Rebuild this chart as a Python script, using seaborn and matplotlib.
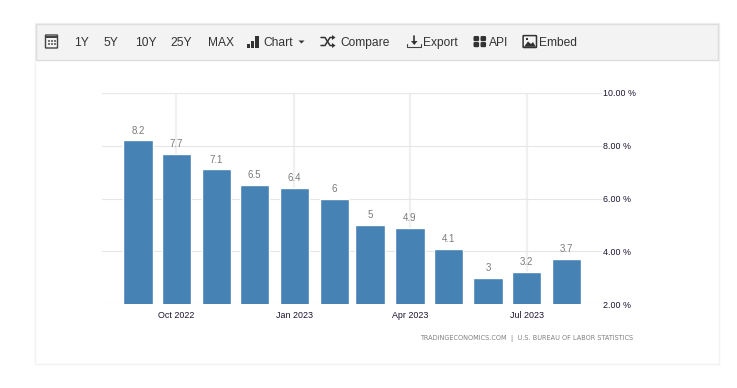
import datetime as dt
import matplotlib
matplotlib.use("Agg")
import matplotlib.pyplot as plt
import matplotlib.dates as mdates
from matplotlib.patches import Rectangle, FancyBboxPatch, Polygon
import seaborn as sns

months = ["2022-09-01", "2022-10-01", "2022-11-01", "2022-12-01", "2023-01-01", "2023-02-01",
          "2023-03-01", "2023-04-01", "2023-05-01", "2023-06-01", "2023-07-01", "2023-08-01"]
inflation = [8.2, 7.7, 7.1, 6.5, 6.4, 6, 5, 4.9, 4.1, 3, 3.2, 3.7]
tick_dates = ["2022-10-01", "2023-01-01", "2023-04-01", "2023-07-01"]
tick_labels = ["Oct 2022", "Jan 2023", "Apr 2023", "Jul 2023"]
y_ticks = [2, 4, 6, 8, 10]
y_labels = ["2.00 %", "4.00 %", "6.00 %", "8.00 %", "10.00 %"]
menu = [("1Y", 74), ("5Y", 104), ("10Y", 135), ("25Y", 170.5), ("MAX", 208), ("Chart", 263.5),
        ("Compare", 340), ("Export", 423), ("API", 489), ("Embed", 539.5)]

W, H = 737, 388
sns.set_theme(style="white")
plt.rcParams["font.family"] = ["Liberation Sans", "DejaVu Sans"]


def to_num(d):
    return mdates.date2num(dt.date.fromisoformat(d))


fig = plt.figure(figsize=(W / 100, H / 100), dpi=100, facecolor="white")

# page chrome in pixel coordinates
bg = fig.add_axes([0, 0, 1, 1], zorder=0)
bg.set_xlim(0, W)
bg.set_ylim(H, 0)
bg.axis("off")
bg.add_patch(Rectangle((35.5, 22.5), 684, 341, fc="white", ec="#f2f2f2", lw=1))
bg.add_patch(Rectangle((36.5, 23.5), 682, 36, fc="#f3f3f3", ec="#dddddd", lw=1))
for label, px in menu:
    bg.text(px, 45.7, label, fontsize=8.64, color="#333333", va="baseline", ha="left")

ic = "#333333"
# calendar icon
bg.add_patch(FancyBboxPatch((46, 35.5), 11, 12, boxstyle="round,pad=0.5", fc="#f3f3f3", ec="#444444", lw=1.0))
bg.add_patch(Rectangle((46, 35.5), 11, 2.5, fc="#444444", ec="none"))
for gx in (48, 51, 54):
    for gy in (40, 43):
        bg.add_patch(Rectangle((gx, gy), 2, 2, fc="#777777", ec="none"))
# bars icon
for bx, top in ((247.5, 43.5), (251, 40.5), (255, 36)):
    bg.add_patch(Rectangle((bx, top), 3 if bx < 255 else 4, 47.5 - top, fc=ic, ec="none"))
# caret
bg.add_patch(Polygon([(298.5, 40.5), (304.5, 40.5), (301.5, 43.5)], fc=ic, ec="none"))
# shuffle icon
bg.plot([321, 325, 330, 333], [37.5, 37.5, 45.5, 45.5], color=ic, lw=1.1)
bg.plot([321, 325, 330, 333], [45.5, 45.5, 37.5, 37.5], color=ic, lw=1.1)
bg.add_patch(Polygon([(332, 35), (335.5, 37.5), (332, 40)], fc=ic, ec="none"))
bg.add_patch(Polygon([(332, 43), (335.5, 45.5), (332, 48)], fc=ic, ec="none"))
# export icon
bg.plot([407.5, 407.5, 421, 421], [43.5, 47, 47, 43.5], color="#444444", lw=0.8)
bg.plot([414.3, 414.3], [36, 43], color=ic, lw=1.2)
bg.add_patch(Polygon([(411, 41), (417.6, 41), (414.3, 45)], fc=ic, ec="none"))
# api icon
for ax_, ay_ in ((473.5, 36), (480.5, 36), (473.5, 42), (480.5, 42)):
    bg.add_patch(FancyBboxPatch((ax_ + 1.3, ay_ + 1.3), 3, 2.6, boxstyle="round,pad=1.3", fc=ic, ec="none"))
# embed icon
bg.add_patch(FancyBboxPatch((523.8, 36.3), 12, 10.5, boxstyle="round,pad=0.7", fc="#f3f3f3", ec=ic, lw=1.1))
bg.add_patch(Polygon([(524, 46.8), (528, 41.5), (531, 44), (533, 42), (535.8, 46.8)], fc=ic, ec="none"))
bg.add_patch(Rectangle((526, 38.3), 2, 2, fc=ic, ec="none"))

bg.text(633, 338, "TRADINGECONOMICS.COM  |  U.S. BUREAU OF LABOR STATISTICS", fontsize=4.7,
        color="#808080", ha="right", va="center", fontfamily="DejaVu Sans")

# chart
ax = fig.add_axes([102 / W, (H - 304) / H, 500 / W, 211 / H], zorder=1)
ax.patch.set_alpha(0)
x = [to_num(m) for m in months]
sns.barplot(x=x, y=inflation, native_scale=True, orient="x", color="#4682B4", saturation=1,
            width=0.82, ax=ax, zorder=3)

oct_num = to_num(tick_dates[0])
px_per_day = 118 / 92
ax.set_xlim(oct_num - 74.5 / px_per_day, oct_num + 425.5 / px_per_day)
ax.set_ylim(2, 10)
ax.set_xlabel("")
ax.set_ylabel("")
sns.despine(ax=ax, left=True, bottom=True, right=True, top=True)

ax.yaxis.tick_right()
ax.set_yticks(y_ticks, y_labels)
ax.set_xticks([to_num(t) for t in tick_dates], tick_labels)
ax.tick_params(axis="y", length=0, pad=1, labelcolor="#1c1230")
ax.tick_params(axis="x", length=3, width=0.8, color="#d8d8d8", pad=2, labelcolor="#1c1230")
for lab in ax.get_yticklabels() + ax.get_xticklabels():
    lab.set_fontsize(6.4)
ax.set_axisbelow(True)
ax.grid(axis="y", color="#e6e6e6", lw=0.8)
ax.grid(axis="x", color="#f0f0f0", lw=1.6)

ax.bar_label(ax.containers[0], fmt="%g", padding=3.5, fontsize=7, color="#7a7a7a")

fig.savefig("out.png", dpi=100, facecolor="white")
